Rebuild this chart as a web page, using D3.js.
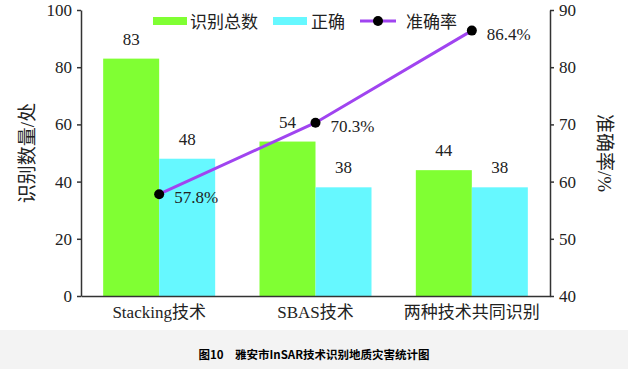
<!DOCTYPE html>
<html><head><meta charset="utf-8">
<script src="https://cdn.jsdelivr.net/npm/d3@7"></script>
<style>body{margin:0;background:#fff}svg{display:block}
.sf{font-family:"Liberation Serif","Times New Roman","DejaVu Serif","Noto Sans CJK SC",serif}</style>
</head><body><svg id="c" width="628" height="369"></svg>
<script>
const categories = ["Stacking技术", "SBAS技术", "两种技术共同识别"];
const totalCount = [83, 54, 44];
const correctCount = [48, 38, 38];
const accuracy = [57.8, 70.3, 86.4];
const leftTicks = [0, 20, 40, 60, 80, 100];
const rightTicks = [40, 50, 60, 70, 80, 90];
const seriesNames = ["识别总数", "正确", "准确率"];

const svg = d3.select("#c");
const W = 628, H = 369;
const m = {l: 81, r: 550, t: 10, b: 296};
const green = "#80ff33", cyan = "#66f8ff", purple = "#a044f0";

svg.append("rect").attr("x", 0).attr("y", 330).attr("width", W).attr("height", H - 330).attr("fill", "#f3f3f3");
svg.append("text").attr("x", 314).attr("y", 359).attr("text-anchor", "middle")
  .attr("font-family", "'Noto Sans CJK SC',sans-serif").attr("font-weight", "bold").attr("font-size", 11.5)
  .text("图10　雅安市InSAR技术识别地质灾害统计图");

const x = d3.scaleBand().domain(categories).range([m.l, m.r]);
const yL = d3.scaleLinear().domain([0, 100]).range([m.b, m.t]);
const yR = d3.scaleLinear().domain([40, 90]).range([m.b, m.t]);
const bw = 56;

const g = svg.append("g");
categories.forEach((c, i) => {
  const cx = x(c) + x.bandwidth() / 2;
  g.append("rect").attr("x", cx - bw).attr("width", bw).attr("y", yL(totalCount[i])).attr("height", yL(0) - yL(totalCount[i])).attr("fill", green);
  g.append("rect").attr("x", cx).attr("width", bw).attr("y", yL(correctCount[i])).attr("height", yL(0) - yL(correctCount[i])).attr("fill", cyan);
  g.append("text").attr("class", "sf").attr("x", cx - bw / 2).attr("y", yL(totalCount[i]) - 14).attr("text-anchor", "middle")
    .attr("font-size", 17).attr("fill", "#222").text(totalCount[i]);
  g.append("text").attr("class", "sf").attr("x", cx + bw / 2).attr("y", yL(correctCount[i]) - 14).attr("text-anchor", "middle")
    .attr("font-size", 17).attr("fill", "#222").text(correctCount[i]);
});

const line = d3.line().x((d, i) => x(categories[i]) + x.bandwidth() / 2).y(d => yR(d));
g.append("path").attr("d", line(accuracy)).attr("fill", "none").attr("stroke", purple).attr("stroke-width", 3);
accuracy.forEach((v, i) => {
  const cx = x(categories[i]) + x.bandwidth() / 2;
  g.append("circle").attr("cx", cx).attr("cy", yR(v)).attr("r", 5).attr("fill", "#000");
  g.append("text").attr("class", "sf").attr("x", cx + 15).attr("y", yR(v) + 9).attr("font-size", 17).attr("fill", "#222").text(v.toFixed(1) + "%");
});

function styleAxis(sel) {
  sel.attr("font-family", null);
  sel.selectAll("path,line").attr("stroke", "#333").attr("stroke-width", 1.5);
  sel.selectAll("text").attr("class", "sf").attr("font-size", 17).attr("fill", "#222");
}
svg.append("g").attr("transform", `translate(${m.l},0)`)
  .call(d3.axisLeft(yL).tickValues(leftTicks).tickSize(4).tickSizeOuter(0).tickPadding(5)).call(styleAxis);
svg.append("g").attr("transform", `translate(${m.r},0)`)
  .call(d3.axisRight(yR).tickValues(rightTicks).tickSize(4).tickSizeOuter(0).tickPadding(5)).call(styleAxis);
svg.append("g").attr("transform", `translate(0,${m.b})`)
  .call(d3.axisBottom(x).tickSize(0).tickPadding(10)).call(styleAxis)
  .selectAll("text").attr("dy", "0.71em");

svg.append("text").attr("class", "sf").attr("transform", "translate(34,153) rotate(-90)").attr("text-anchor", "middle")
  .attr("font-size", 19).attr("fill", "#222").text("识别数量/处");
svg.append("text").attr("class", "sf").attr("transform", "translate(598,153) rotate(90)").attr("text-anchor", "middle")
  .attr("font-size", 19).attr("fill", "#222").text("准确率/%");

// legend
const lg = svg.append("g");
lg.append("rect").attr("x", 153).attr("y", 17).attr("width", 34).attr("height", 8).attr("fill", green);
lg.append("text").attr("class", "sf").attr("font-size", 17).attr("fill", "#222").attr("x", 190).attr("y", 28).text(seriesNames[0]);
lg.append("rect").attr("x", 273).attr("y", 17).attr("width", 34).attr("height", 8).attr("fill", cyan);
lg.append("text").attr("class", "sf").attr("font-size", 17).attr("fill", "#222").attr("x", 311).attr("y", 28).text(seriesNames[1]);
lg.append("line").attr("x1", 360).attr("x2", 396).attr("y1", 21).attr("y2", 21).attr("stroke", purple).attr("stroke-width", 3);
lg.append("circle").attr("cx", 378).attr("cy", 21).attr("r", 5).attr("fill", "#000");
lg.append("text").attr("class", "sf").attr("font-size", 17).attr("fill", "#222").attr("x", 406).attr("y", 28).text(seriesNames[2]);
</script></body></html>
